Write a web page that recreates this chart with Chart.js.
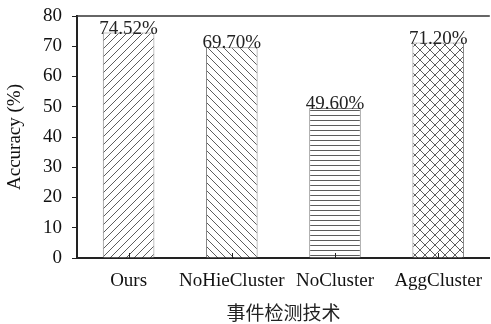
<!DOCTYPE html>
<html>
<head>
<meta charset="utf-8">
<script src="https://cdn.jsdelivr.net/npm/chart.js@4/dist/chart.umd.min.js"></script>
<style>
  html, body { margin:0; padding:0; background:#fff; overflow:hidden; }
  #wrap { width:494px; height:324px; }
</style>
</head>
<body>
<div id="wrap"><canvas id="c"></canvas></div>
<script>
// data
const categories = ['Ours', 'NoHieCluster', 'NoCluster', 'AggCluster'];
const accuracy = [74.52, 69.70, 49.60, 71.20];
const valueLabels = ['74.52%', '69.70%', '49.60%', '71.20%'];
const yTicks = [0, 10, 20, 30, 40, 50, 60, 70, 80];
const patternKinds = ['fwd', 'back', 'horiz', 'cross'];

const SERIF = '"Liberation Serif", "DejaVu Serif", serif';

function makePattern(kind) {
  const s = kind === 'horiz' ? 5 : (kind === 'cross' ? 10 : 8);
  const c = document.createElement('canvas');
  c.width = s; c.height = s;
  const g = c.getContext('2d');
  g.fillStyle = '#fff'; g.fillRect(0, 0, s, s);
  g.strokeStyle = '#333'; g.lineWidth = 0.8;
  g.beginPath();
  if (kind === 'fwd' || kind === 'cross') {
    g.moveTo(-1, s + 1); g.lineTo(s + 1, -1);
    g.moveTo(-1, 1); g.lineTo(1, -1);
    g.moveTo(s - 1, s + 1); g.lineTo(s + 1, s - 1);
  }
  if (kind === 'back' || kind === 'cross') {
    g.moveTo(-1, -1); g.lineTo(s + 1, s + 1);
    g.moveTo(s - 1, -1); g.lineTo(s + 1, 1);
    g.moveTo(-1, s - 1); g.lineTo(1, s + 1);
  }
  if (kind === 'horiz') {
    g.moveTo(0, 0.5); g.lineTo(s, 0.5);
  }
  g.stroke();
  return document.createElement('canvas').getContext('2d').createPattern(c, 'repeat');
}

const frame = {
  id: 'frame',
  afterDatasetsDraw(chart) {
    const { ctx, chartArea: a } = chart;
    const meta = chart.getDatasetMeta(0);
    ctx.save();
    // top border
    ctx.strokeStyle = '#333'; ctx.lineWidth = 1.5;
    ctx.beginPath(); ctx.moveTo(a.left, a.top); ctx.lineTo(a.right, a.top); ctx.stroke();
    // inward x ticks
    ctx.strokeStyle = '#222'; ctx.lineWidth = 1;
    meta.data.forEach(b => {
      const x = Math.round(b.x) + 0.5;
      ctx.beginPath(); ctx.moveTo(x, a.bottom); ctx.lineTo(x, a.bottom - 5); ctx.stroke();
    });
    // value labels
    ctx.fillStyle = '#222';
    ctx.font = '19px ' + SERIF;
    ctx.textAlign = 'center'; ctx.textBaseline = 'alphabetic';
    meta.data.forEach((b, i) => ctx.fillText(valueLabels[i], b.x, b.y + 1));
    ctx.restore();
  }
};

new Chart(document.getElementById('c'), {
  type: 'bar',
  data: {
    labels: categories,
    datasets: [{
      data: accuracy,
      backgroundColor: patternKinds.map(makePattern),
      borderColor: '#888',
      borderWidth: 1,
      barPercentage: 0.5,
      categoryPercentage: 1
    }]
  },
  options: {
    responsive: true,
    maintainAspectRatio: false,
    animation: false,
    layout: { padding: { top: 16, right: 0, left: 0, bottom: 0 } },
    plugins: { legend: { display: false }, tooltip: { enabled: false } },
    scales: {
      x: {
        afterFit(axis) { axis.height = 66; },
        grid: { display: false, drawTicks: false },
        border: { color: '#222', width: 2 },
        ticks: { color: '#111', font: { family: SERIF, size: 19 }, padding: 12,
                 maxRotation: 0, minRotation: 0, autoSkip: false },
        title: { display: true, text: '事件检测技术', color: '#222',
                 font: { family: '"Noto Sans CJK SC"', size: 19 }, padding: { top: 0, bottom: 0 } }
      },
      y: {
        min: 0, max: 80,
        afterFit(axis) { axis.width = 77; axis.paddingTop = 2; axis.paddingBottom = 2; },
        afterBuildTicks(axis) { axis.ticks = yTicks.map(v => ({ value: v })); },
        grid: { drawOnChartArea: false, drawTicks: true, tickLength: 5, color: '#222' },
        border: { color: '#222', width: 2 },
        ticks: { color: '#111', font: { family: SERIF, size: 19 }, padding: 10 },
        title: { display: true, text: 'Accuracy (%)', color: '#111',
                 font: { family: SERIF, size: 19 }, padding: { top: 4, bottom: 4 } }
      }
    }
  },
  plugins: [frame]
});
</script>
</body>
</html>
